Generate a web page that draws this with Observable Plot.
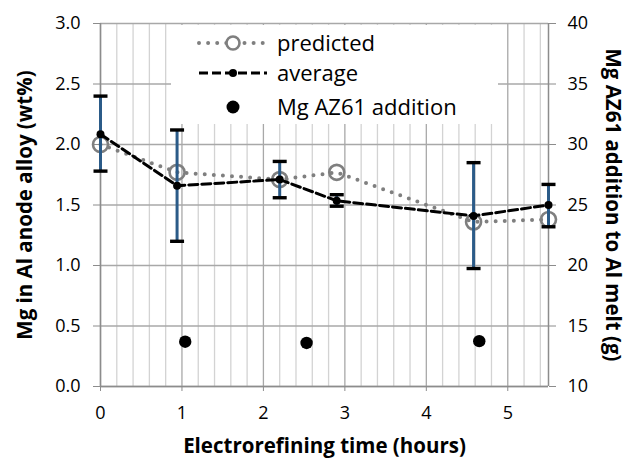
<!DOCTYPE html>
<html>
<head>
<meta charset="utf-8">
<script src="https://cdn.jsdelivr.net/npm/d3@7"></script>
<script src="https://cdn.jsdelivr.net/npm/@observablehq/plot@0.6"></script>
<style>
  html, body { margin: 0; padding: 0; background: #fff; }
  #wrap { position: relative; width: 628px; height: 460px; font-family: "Open Sans", sans-serif; }
  #legend { position: absolute; left: 0; top: 0; pointer-events: none; }
</style>
</head>
<body>
<div id="wrap"></div>
<script>
// ---- data ----
const hours      = [0, 0.94, 2.2, 2.9, 4.58, 5.5];
const predicted  = [2.0, 1.77, 1.71, 1.77, 1.36, 1.38];
const average    = [2.085, 1.66, 1.71, 1.535, 1.41, 1.50];
const errHigh    = [2.40, 2.12, 1.86, 1.585, 1.85, 1.67];
const errLow     = [1.78, 1.20, 1.56, 1.49, 0.975, 1.32];
const additionHours = [1.04, 2.53, 4.65];
const additionGrams = [13.7, 13.6, 13.75];

const xTicks      = [0, 1, 2, 3, 4, 5];
const xMinorTicks = [0.2, 0.4, 0.6, 0.8, 1.2, 1.4, 1.6, 1.8, 2.2, 2.4, 2.6, 2.8, 3.2, 3.4, 3.6, 3.8, 4.2, 4.4, 4.6, 4.8, 5.2, 5.4];
const leftTicks   = [0, 0.5, 1.0, 1.5, 2.0, 2.5, 3.0];
const rightTicks  = [10, 15, 20, 25, 30, 35, 40];

const xLabel = "Electrorefining time (hours)";
const yLabelLeft = "Mg in Al anode alloy (wt%)";
const yLabelRight = "Mg AZ61 addition to Al melt (g)";
const seriesNames = ["predicted", "average", "Mg AZ61 addition"];

// right axis (g) is linear with the left axis: 10 g ↔ 0 wt%, 40 g ↔ 3 wt%
const gramsToLeft = g => (g - 10) / 10;

const rows = hours.map((h, i) => ({hour: h, pred: predicted[i], avg: average[i], hi: errHigh[i], lo: errLow[i]}));
const additions = additionHours.map((h, i) => ({hour: h, y: gramsToLeft(additionGrams[i])}));

// horizontal cap symbol for error bars
const capSymbol = {
  draw(context, size) {
    const w = Math.sqrt(size / Math.PI);
    context.moveTo(-w, 0);
    context.lineTo(w, 0);
  }
};

const gridMajor = "#a8a8a8";
const gridMinor = "#d3d3d3";
const axisGray = "#8c8c8c";
const barBlue = "#2b5b88";
const titleSize = 20.5;

const chart = Plot.plot({
  width: 628,
  height: 460,
  marginLeft: 100,
  marginRight: 80,
  marginTop: 23,
  marginBottom: 74,
  x: {domain: [0, 5.5]},
  y: {domain: [0, 3]},
  style: {fontFamily: "Open Sans", fontSize: "18px", color: "#000", background: "#fff"},
  marks: [
    Plot.gridX(xMinorTicks, {stroke: gridMinor, strokeOpacity: 1, strokeWidth: 1.3}),
    Plot.gridX(xTicks, {stroke: gridMajor, strokeOpacity: 1, strokeWidth: 1.3}),
    Plot.gridY(leftTicks, {stroke: gridMajor, strokeOpacity: 1, strokeWidth: 1.3}),
    Plot.ruleX([0, 5.5], {stroke: axisGray, strokeWidth: 1.5}),
    Plot.ruleY([0], {stroke: axisGray, strokeWidth: 1.5}),
    Plot.axisX({ticks: xTicks, tickFormat: d => String(d), tickSize: 5, tickPadding: 15, stroke: axisGray, fill: "#000", label: null}),
    Plot.axisY({ticks: leftTicks, tickFormat: d3.format(".1f"), tickSize: 7, tickPadding: 13, stroke: axisGray, fill: "#000", label: null}),
    Plot.axisY({anchor: "right", ticks: rightTicks.map(gramsToLeft), tickFormat: d => String(Math.round(d * 10 + 10)), tickSize: 7, tickPadding: 12, stroke: axisGray, fill: "#000", label: null}),
    // predicted dotted line + open circles
    Plot.line(rows, {x: "hour", y: "pred", stroke: "#7f7f7f", strokeWidth: 4, strokeDasharray: "0 9.1", strokeLinecap: "round"}),
    Plot.dot(rows, {x: "hour", y: "pred", r: 7.5, stroke: "#7f7f7f", strokeWidth: 2.6, fill: "none"}),
    // average dashed line
    Plot.line(rows, {x: "hour", y: "avg", stroke: "#000", strokeWidth: 3, strokeDasharray: "9 4"}),
    // error bars
    Plot.ruleX(rows, {x: "hour", y1: "lo", y2: "hi", stroke: barBlue, strokeWidth: 3}),
    Plot.dot(rows, {x: "hour", y: "hi", symbol: capSymbol, r: 7, stroke: "#000", strokeWidth: 3.4, fill: "none"}),
    Plot.dot(rows, {x: "hour", y: "lo", symbol: capSymbol, r: 7, stroke: "#000", strokeWidth: 3.4, fill: "none"}),
    Plot.dot(rows, {x: "hour", y: "avg", r: 4, fill: "#000"}),
    // Mg AZ61 additions (right axis)
    Plot.dot(additions, {x: "hour", y: "y", r: 6.2, fill: "#000"}),
    // axis titles
    Plot.text([xLabel], {frameAnchor: "bottom", textAnchor: "middle", lineAnchor: "middle", dy: 60, fontWeight: "bold", fontSize: titleSize, fill: "#000"}),
    Plot.text([yLabelLeft], {frameAnchor: "left", textAnchor: "middle", lineAnchor: "middle", rotate: -90, dx: -75, fontWeight: "bold", fontSize: titleSize, fill: "#000"}),
    Plot.text([yLabelRight], {frameAnchor: "right", textAnchor: "middle", lineAnchor: "middle", rotate: 90, dx: 64, fontWeight: "bold", fontSize: titleSize, fill: "#000"})
  ]
});

const wrap = document.getElementById("wrap");
wrap.appendChild(chart);

// ---- legend overlay ----
const lg = d3.select(wrap).append("svg")
  .attr("id", "legend")
  .attr("width", 628).attr("height", 460)
  .style("font-family", "Open Sans").style("font-size", "22px");

lg.append("rect").attr("x", 171).attr("y", 25).attr("width", 327).attr("height", 99).attr("fill", "#fff");

const rowY = [43, 73, 107];
const swX1 = 199, swX2 = 267, swC = 233, txtX = 277;

// predicted
lg.append("line").attr("x1", swX1).attr("x2", swX2).attr("y1", rowY[0]).attr("y2", rowY[0])
  .attr("stroke", "#7f7f7f").attr("stroke-width", 4).attr("stroke-dasharray", "0 9.1").attr("stroke-linecap", "round");
lg.append("circle").attr("cx", swC).attr("cy", rowY[0]).attr("r", 6.5).attr("fill", "#fff").attr("stroke", "#7f7f7f").attr("stroke-width", 2.6);
// average
lg.append("line").attr("x1", swX1).attr("x2", swX2).attr("y1", rowY[1]).attr("y2", rowY[1])
  .attr("stroke", "#000").attr("stroke-width", 3).attr("stroke-dasharray", "9 4");
lg.append("circle").attr("cx", swC).attr("cy", rowY[1]).attr("r", 4).attr("fill", "#000");
// additions
lg.append("circle").attr("cx", swC).attr("cy", rowY[2]).attr("r", 6.5).attr("fill", "#000");

seriesNames.forEach((name, i) => {
  lg.append("text").attr("x", txtX).attr("y", rowY[i]).attr("dy", "0.35em").attr("fill", "#000").text(name);
});
</script>
</body>
</html>
